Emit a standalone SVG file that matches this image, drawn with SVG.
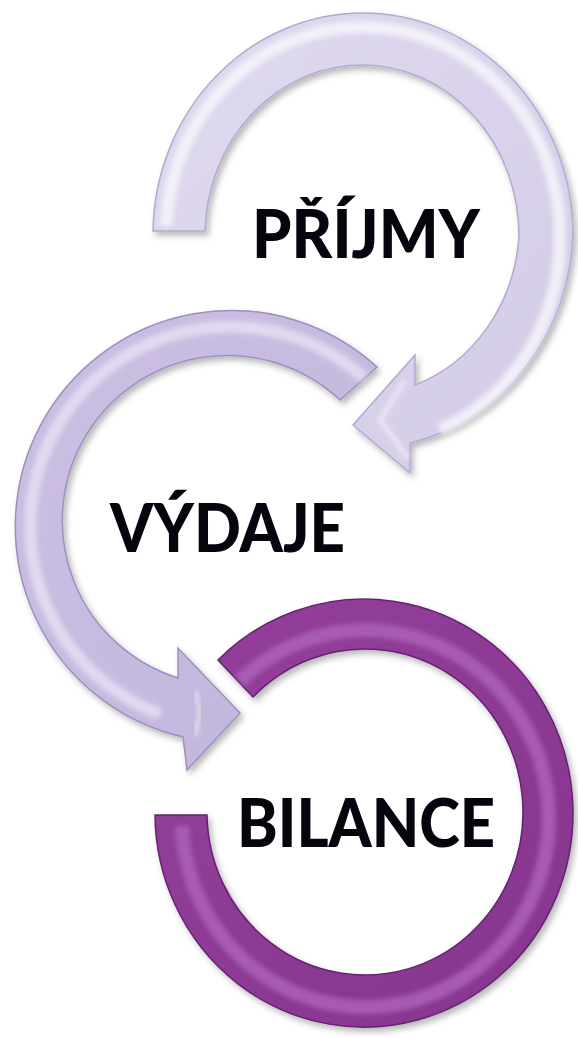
<svg xmlns="http://www.w3.org/2000/svg" width="578" height="1038" viewBox="0 0 578 1038">
  <style>
    .label { font-family: "Lato", "Open Sans", "Liberation Sans", sans-serif; font-weight: 900; font-size: 67px; fill: #05050d; }
    .hl { fill: none; stroke-linecap: butt; filter: url(#soft); }
    .ring1 { fill: url(#g1); stroke: #b4a9d3; stroke-width: 1.5; }
    .ring2 { fill: url(#g2); stroke: #9d8fc2; stroke-width: 1.5; }
    .ring3 { fill: url(#g3); stroke: #652270; stroke-width: 1.5; }
  </style>
  <defs>
    <filter id="shadow" x="-20%" y="-20%" width="140%" height="140%">
      <feDropShadow dx="3" dy="4" stdDeviation="3" flood-color="#000" flood-opacity="0.28"/>
    </filter>
    <filter id="soft" x="-20%" y="-20%" width="140%" height="140%">
      <feGaussianBlur stdDeviation="2.5"/>
    </filter>
    <linearGradient id="g1" x1="0" y1="0" x2="1" y2="1">
      <stop offset="0" stop-color="#e0daef"/>
      <stop offset="1" stop-color="#d3cbe6"/>
    </linearGradient>
    <linearGradient id="g2" x1="0" y1="0" x2="1" y2="1">
      <stop offset="0" stop-color="#cbbfe2"/>
      <stop offset="1" stop-color="#c2b5dc"/>
    </linearGradient>
    <linearGradient id="g3" x1="0" y1="0" x2="1" y2="1">
      <stop offset="0" stop-color="#943f9c"/>
      <stop offset="1" stop-color="#86368e"/>
    </linearGradient>
  </defs>
  <rect width="578" height="1038" fill="#ffffff"/>

  <g id="node-prijmy">
    <path class="ring1" filter="url(#shadow)" d="M153,231 A210 222 0 0 1 363,13 A210 222 0 0 1 573,235 A210 222 0 0 1 410,443 L410,473 L353,425 L415,355 L415,385 A157 171 0 0 0 519,236 A157 171 0 0 0 362,65 A157 171 0 0 0 205,231 Z"/>
    <path class="hl" stroke="#f6f4fb" stroke-width="12" opacity="0.85" d="M166,226 A197 209 0 0 1 363,27 A197 209 0 0 1 560,236 A197 209 0 0 1 440,430"/>
    <path class="hl" stroke="#f2eff9" stroke-width="4" opacity="0.9" d="M405,380 L380,420 L408,458"/>
    <text class="label" x="252" y="258" textLength="228" lengthAdjust="spacingAndGlyphs">PŘÍJMY</text>
  </g>

  <g id="node-vydaje">
    <path class="ring2" filter="url(#shadow)" d="M377,367 A216 216 0 1 0 183,737 L187,770 L240,713 L178,648 L178,678 A165 165 0 1 1 340,400 Z"/>
    <path class="hl" stroke="#e6dff3" stroke-width="12" opacity="0.85" d="M364,378 A200 200 0 1 0 160,714"/>
    <path class="hl" stroke="#f4f0fa" stroke-width="3" opacity="0.9" d="M195,690 L200,712 L195,735"/>
    <text class="label" x="110" y="552" textLength="235" lengthAdjust="spacingAndGlyphs">VÝDAJE</text>
  </g>

  <g id="node-bilance">
    <path class="ring3" filter="url(#shadow)" d="M218,660 A209 214 0 1 1 155,815 L207,815 A158 163 0 1 0 253,697 Z"/>
    <path class="hl" stroke="#ad62b5" stroke-width="14" opacity="0.85" d="M240,681 A183.5 188.5 0 1 1 182,826"/>
    <text class="label" x="237" y="847" textLength="258" lengthAdjust="spacingAndGlyphs">BILANCE</text>
  </g>

  <g id="connectors"/>
</svg>
